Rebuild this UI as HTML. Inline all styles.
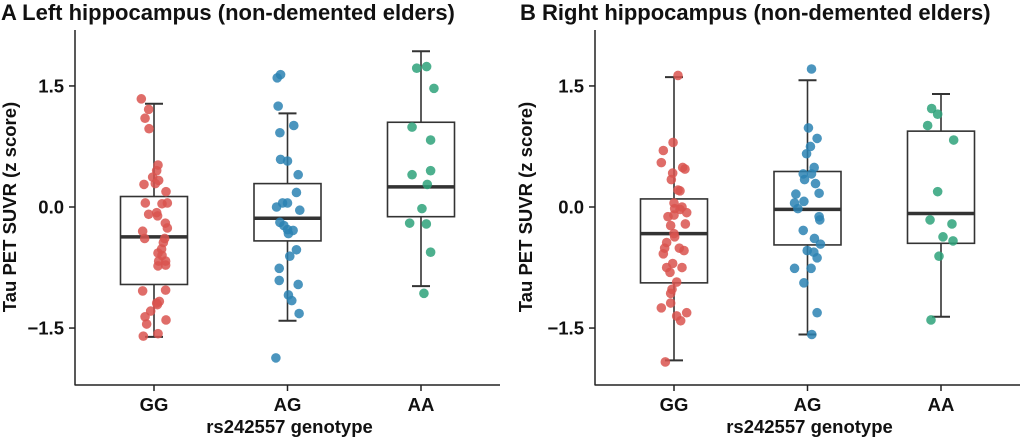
<!DOCTYPE html>
<html><head><meta charset="utf-8"><style>
body{margin:0;background:#fff;}
svg{display:block;font-family:"Liberation Sans",Arial,sans-serif;}
</style></head><body>
<svg id="chart" width="1020" height="437" viewBox="0 0 1020 437"></svg>
<script>
const categories=["GG","AG","AA"];
const yTicks=[-1.5,0,1.5];
const yTickLabels=["\u22121.5","0.0","1.5"];
// Panel A box stats [whiskerLow,Q1,median,Q3,whiskerHigh]
const leftBoxes=[[-1.61,-0.96,-0.37,0.13,1.28],[-1.41,-0.42,-0.14,0.29,1.16],[-0.98,-0.12,0.25,1.05,1.93]];
const leftGG=[1.34,1.21,1.10,0.97,0.52,0.45,0.37,0.33,0.29,0.28,0.19,0.05,0.04,0.05,-0.07,-0.09,-0.11,-0.20,-0.26,-0.30,-0.39,-0.39,-0.44,-0.52,-0.57,-0.60,-0.67,-0.67,-0.73,-0.72,-1.04,-1.03,-1.19,-1.17,-1.21,-1.29,-1.36,-1.45,-1.40,-1.60,-1.57];
const leftGGJit=[-0.095,-0.04,-0.067,-0.037,0.03,0.02,-0.01,0.035,0.01,-0.075,0.09,-0.065,0.06,0.1,0.02,-0.04,0.027,0.085,0.1,-0.085,-0.07,0.08,0.07,0.057,0.03,0.06,0.087,0.035,0.03,0.087,-0.085,0.087,0.02,0.04,0.025,-0.025,-0.067,-0.055,0.09,-0.08,0.03];
const leftAG=[1.60,1.64,1.25,1.01,0.92,0.59,0.57,0.40,0.18,0.05,0.05,0.00,-0.04,-0.19,-0.23,-0.28,-0.29,-0.33,-0.53,-0.61,-0.76,-0.91,-0.96,-1.09,-1.16,-1.32,-1.87];
const leftAGJit=[-0.077,-0.052,-0.07,0.047,-0.057,-0.052,0,0.08,0.067,-0.037,0,-0.082,0.092,-0.057,-0.027,0,0.042,0.007,0.067,0.017,-0.062,-0.062,0.08,0.007,0.032,0.087,-0.087];
const leftAA=[1.72,1.74,1.47,0.99,0.83,0.40,0.45,0.28,-0.02,-0.20,-0.21,-0.56,-1.07];
const leftAAJit=[-0.032,0.042,0.097,-0.067,0.072,-0.067,0.072,0.047,0.007,-0.085,0.04,0.072,0.022];
// Panel B
const rightBoxes=[[-1.90,-0.94,-0.33,0.10,1.61],[-1.58,-0.47,-0.03,0.44,1.57],[-1.36,-0.45,-0.08,0.94,1.40]];
const rightGG=[1.63,0.80,0.70,0.55,0.49,0.47,0.42,0.34,0.21,0.20,0.05,0.00,-0.02,-0.03,-0.07,-0.12,-0.10,-0.21,-0.23,-0.33,-0.37,-0.44,-0.51,-0.51,-0.54,-0.58,-0.75,-0.70,-0.75,-0.81,-0.93,-1.02,-1.07,-1.19,-1.25,-1.35,-1.41,-1.31,-1.92];
const rightGGJit=[0.03,-0.007,-0.08,-0.095,0.065,0.082,-0.01,-0.02,0.03,0.045,0,0.06,0.005,0.045,0.095,-0.045,0,0.085,-0.025,0,0.005,-0.055,-0.07,0.04,0.075,-0.08,-0.055,-0.01,0.06,-0.03,0.02,-0.015,-0.025,-0.025,-0.095,0.02,0.05,0.095,-0.065];
const rightAG=[1.71,0.98,0.85,0.75,0.66,0.49,0.41,0.41,0.34,0.29,0.16,0.17,0.07,0.05,-0.02,-0.12,-0.16,-0.29,-0.39,-0.46,-0.54,-0.56,-0.63,-0.76,-0.76,-0.94,-1.31,-1.58];
const rightAGJit=[0.03,0.007,0.072,0.022,-0.007,0.05,-0.032,0.03,-0.022,0.06,-0.087,0.087,-0.027,-0.097,-0.072,0.087,0.092,-0.032,0.052,0.097,-0.002,0.047,0.072,-0.097,0.027,-0.027,0.072,0.032];
const rightAA=[1.22,1.15,1.01,0.83,0.19,-0.16,-0.21,-0.37,-0.42,-0.61,-1.40];
const rightAAJit=[-0.07,-0.025,-0.1,0.095,-0.025,-0.082,0.082,0.015,0.09,-0.015,-0.075];

const colors=["#d9534f","#2b82b3","#2ea27a"];
const NS="http://www.w3.org/2000/svg";
const svg=document.getElementById("chart");
function mk(tag,attrs,parent){const e=document.createElementNS(NS,tag);for(const k in attrs)e.setAttribute(k,attrs[k]);(parent||svg).appendChild(e);return e;}

function panel(opt){
  const g=mk("g",{});
  
  
  const ax=opt.axisX, bottom=385, top=30, right=opt.right;
  const yScale=v=>207-v*80.7;
  const step=133.5;
  const xScale=i=>opt.firstX+i*step;
  const t=mk("text",{x:opt.titleX,y:20,"font-size":"22","font-weight":"bold",fill:"#111"},g);
  t.textContent=opt.title;
  
  
  const yl=mk("line",{x1:ax,y1:top,x2:ax,y2:bottom+0.5,stroke:"#222","stroke-width":1.5},g);
  
  
  const xl=mk("line",{x1:ax,y1:bottom,x2:right,y2:bottom,stroke:"#222","stroke-width":1.5},g);
  
  
  yTicks.forEach((v,i)=>{
    const y=yScale(v);
    mk("line",{x1:ax-6,y1:y,x2:ax,y2:y,stroke:"#222","stroke-width":1.5},g);
    const tl=mk("text",{x:ax-11,y:y+6.5,"text-anchor":"end","font-size":"18.5","font-weight":"bold",fill:"#111"},g);
    tl.textContent=yTickLabels[i];
    
    
  });
  categories.forEach((c,i)=>{
    const x=xScale(i);
    mk("line",{x1:x,y1:bottom,x2:x,y2:bottom+6,stroke:"#222","stroke-width":1.5},g);
    const tl=mk("text",{x:x,y:411,"text-anchor":"middle","font-size":"18.5","font-weight":"bold",fill:"#111"},g);
    tl.textContent=c;
    
    
  });
  const xt=mk("text",{x:(ax+right)/2+2,y:433,"text-anchor":"middle","font-size":"18.5","font-weight":"bold",fill:"#111"},g);
  xt.textContent="rs242557 genotype";
  
  
  const yt=mk("text",{x:0,y:0,"text-anchor":"middle","font-size":"18.5","font-weight":"bold",fill:"#111",transform:`translate(${opt.yTitleX},207) rotate(-90)`},g);
  yt.textContent="Tau PET SUVR (z score)";
  
  
  opt.boxes.forEach((b,i)=>{
    const x=xScale(i), hw=33.5, cap=9;
    const bg=mk("g",{stroke:"#333","stroke-width":1.6,fill:"#fff"},g);
    
    
    mk("line",{x1:x,y1:yScale(b[4]),x2:x,y2:yScale(b[3])},bg);
    mk("line",{x1:x,y1:yScale(b[1]),x2:x,y2:yScale(b[0])},bg);
    mk("line",{x1:x-cap,y1:yScale(b[4]),x2:x+cap,y2:yScale(b[4]),"stroke-width":2},bg);
    mk("line",{x1:x-cap,y1:yScale(b[0]),x2:x+cap,y2:yScale(b[0]),"stroke-width":2},bg);
    mk("rect",{x:x-hw,y:yScale(b[3]),width:hw*2,height:yScale(b[1])-yScale(b[3]),fill:"none"},bg);
    mk("line",{x1:x-hw,y1:yScale(b[2]),x2:x+hw,y2:yScale(b[2]),"stroke-width":3.5},bg);
  });
  opt.points.forEach((arr,i)=>{
    arr.forEach((v,j)=>{
      const c=mk("circle",{cx:xScale(i)+opt.jit[i][j]*step,cy:yScale(v),r:4.8,fill:colors[i],"fill-opacity":0.85},g);
      
      
    });
  });
}
panel({name:"panel-a-left-hippocampus",title:"A  Left hippocampus (non-demented elders)",titleX:1,axisX:75,right:500,firstX:154,yTitleX:16,
  boxes:leftBoxes,points:[leftGG,leftAG,leftAA],jit:[leftGGJit,leftAGJit,leftAAJit]});
panel({name:"panel-b-right-hippocampus",title:"B  Right hippocampus (non-demented elders)",titleX:520,axisX:595,right:1020,firstX:674,yTitleX:532,
  boxes:rightBoxes,points:[rightGG,rightAG,rightAA],jit:[rightGGJit,rightAGJit,rightAAJit]});
</script>
</body></html>
